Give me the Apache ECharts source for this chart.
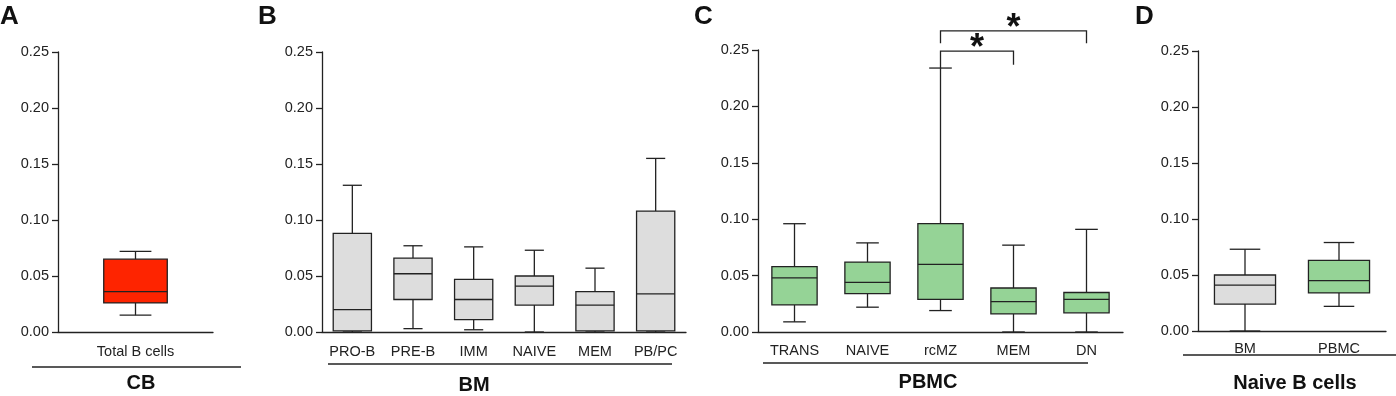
<!DOCTYPE html>
<html>
<head>
<meta charset="utf-8">
<script src="https://cdn.jsdelivr.net/npm/echarts@6/dist/echarts.min.js"></script>
<style>
  html, body { margin: 0; background: #fff; }
  #main { width: 1396px; height: 396px; }
</style>
</head>
<body>
<div id="main"></div>
<script>
// each box is [min, q1, median, q3, max]
const cbCats = ['Total B cells'];
const cbBoxes = [[0.015, 0.026, 0.036, 0.065, 0.072]];

const bmCats = ['PRO-B', 'PRE-B', 'IMM', 'NAIVE', 'MEM', 'PB/PC'];
const bmBoxes = [
    [0.000, 0.001, 0.020, 0.088, 0.131],
    [0.003, 0.029, 0.052, 0.066, 0.077],
    [0.002, 0.011, 0.029, 0.047, 0.076],
    [0.000, 0.024, 0.041, 0.050, 0.073],
    [0.000, 0.001, 0.024, 0.036, 0.057],
    [0.000, 0.001, 0.034, 0.108, 0.155]
];

const pbmcCats = ['TRANS', 'NAIVE', 'rcMZ', 'MEM', 'DN'];
const pbmcBoxes = [
    [0.009, 0.024, 0.048, 0.058, 0.096],
    [0.022, 0.034, 0.044, 0.062, 0.079],
    [0.019, 0.029, 0.060, 0.096, 0.234],
    [0.000, 0.016, 0.027, 0.039, 0.077],
    [0.000, 0.017, 0.029, 0.035, 0.091]
];

const naiveCats = ['BM', 'PBMC'];
const naiveBoxes = [
    [0.000, 0.024, 0.041, 0.050, 0.073],
    [0.022, 0.034, 0.045, 0.063, 0.079]
];

// significance brackets in PBMC: [fromCat, toCat, barY, leftEndY, rightEndY]
const sigBrackets = [
    [2, 3, 0.249, 0.234, 0.237],
    [2, 4, 0.267, 0.256, 0.256]
];
const sigLabels = ['*', '*'];

const groupTitles = ['CB', 'BM', 'PBMC', 'Naive B cells'];
const panelLetters = ['A', 'B', 'C', 'D'];

const RED = '#fe2400', GREY = '#dddddd', GREEN = '#95d396';
const INK = '#222';
const FONT = '"Liberation Sans", Arial, sans-serif';

function boxRenderer(colors, widthFrac){
    return function(params, api){
        let i = api.value(0);
        let band = api.size([1, 0])[0];
        let w = band * widthFrac;
        let cap = w * 0.5;
        let lo = api.coord([i, api.value(1)]);
        let q1 = api.coord([i, api.value(2)]);
        let med = api.coord([i, api.value(3)]);
        let q3 = api.coord([i, api.value(4)]);
        let hi = api.coord([i, api.value(5)]);
        let cx = lo[0];
        let line = (x1, y1, x2, y2) => ({
            type: 'line',
            shape: {x1: x1, y1: y1, x2: x2, y2: y2},
            style: {stroke: INK, lineWidth: 1.3}
        });
        return {
            type: 'group',
            children: [
                line(cx, hi[1], cx, q3[1]),
                line(cx - cap / 2, hi[1], cx + cap / 2, hi[1]),
                line(cx, q1[1], cx, lo[1]),
                line(cx - cap / 2, lo[1], cx + cap / 2, lo[1]),
                {
                    type: 'rect',
                    shape: {x: cx - w / 2, y: q3[1], width: w, height: q1[1] - q3[1]},
                    style: {fill: colors[params.dataIndex % colors.length], stroke: INK, lineWidth: 1.3}
                },
                line(cx - w / 2, med[1], cx + w / 2, med[1])
            ]
        };
    };
}

function bracketRenderer(params, api){
    let a = api.coord([api.value(0), api.value(2)]);
    let b = api.coord([api.value(1), api.value(2)]);
    let la = api.coord([api.value(0), api.value(3)]);
    let rb = api.coord([api.value(1), api.value(4)]);
    return {
        type: 'group',
        children: [
            {
                type: 'polyline',
                shape: {points: [[a[0], la[1]], a, b, [b[0], rb[1]]]},
                style: {stroke: INK, lineWidth: 1.3, fill: null}
            },
            {
                type: 'text',
                x: (a[0] + b[0]) / 2,
                y: a[1] - 2,
                style: {
                    text: sigLabels[params.dataIndex],
                    font: 'bold 36px ' + FONT,
                    fill: '#111',
                    align: 'center',
                    verticalAlign: 'middle'
                }
            }
        ]
    };
}

// panel geometry
const grids = [
    {left: 58, top: 52, width: 155, height: 280},
    {left: 322, top: 52, width: 364, height: 280},
    {left: 758, top: 50, width: 365, height: 282},
    {left: 1198, top: 51, width: 188, height: 280}
];
const catLists = [cbCats, bmCats, pbmcCats, naiveCats];
const labelMargins = [12, 12, 11, 10];

let xAxes = catLists.map((cats, k) => ({
    type: 'category',
    gridIndex: k,
    data: cats,
    boundaryGap: true,
    axisLine: {lineStyle: {color: INK, width: 1.3}},
    axisTick: {alignWithLabel: true, length: 5, lineStyle: {color: INK, width: 1.3}},
    axisLabel: {color: INK, fontSize: 14.5, fontFamily: FONT, margin: labelMargins[k], interval: 0},
    splitLine: {show: false}
}));

let yAxes = grids.map((g, k) => ({
    type: 'value',
    gridIndex: k,
    min: 0,
    max: 0.25,
    interval: 0.05,
    axisLine: {show: true, lineStyle: {color: INK, width: 1.3}},
    axisTick: {show: true, length: 6, lineStyle: {color: INK, width: 1.3}},
    axisLabel: {color: INK, fontSize: 14.5, fontFamily: FONT, margin: 9, formatter: v => v.toFixed(2)},
    splitLine: {show: false}
}));

function boxSeries(k, boxes, colors, frac){
    return {
        type: 'custom',
        xAxisIndex: k,
        yAxisIndex: k,
        renderItem: boxRenderer(colors, frac),
        encode: {x: 0, y: [1, 2, 3, 4, 5]},
        data: boxes.map((b, i) => [i].concat(b))
    };
}

let series = [
    boxSeries(0, cbBoxes, [RED], 0.41),
    boxSeries(1, bmBoxes, [GREY], 0.63),
    boxSeries(2, pbmcBoxes, [GREEN], 0.62),
    boxSeries(3, naiveBoxes, [GREY, GREEN], 0.65),
    {
        type: 'custom',
        xAxisIndex: 2,
        yAxisIndex: 2,
        clip: false,
        renderItem: bracketRenderer,
        encode: {x: [0, 1], y: [2, 3, 4]},
        data: sigBrackets
    }
];

// group underline + title under each panel
const groupLines = [[32, 241, 367], [328, 672, 364], [763, 1088, 363], [1183, 1396, 355]];
const titleY = [383, 385, 382, 383];
const titleX = [141, 474, 928, 1295];
const letterX = [0, 258, 694, 1135];

let graphic = [];
groupLines.forEach((l, k) => {
    graphic.push({
        type: 'line',
        shape: {x1: l[0], y1: l[2], x2: l[1], y2: l[2]},
        style: {stroke: INK, lineWidth: 1.3}
    });
    graphic.push({
        type: 'text',
        x: titleX[k],
        y: titleY[k],
        style: {text: groupTitles[k], font: 'bold 20px ' + FONT, fill: '#111', align: 'center', verticalAlign: 'middle'}
    });
    graphic.push({
        type: 'text',
        x: letterX[k],
        y: 17,
        style: {text: panelLetters[k], font: 'bold 26px ' + FONT, fill: '#111', align: 'left', verticalAlign: 'middle'}
    });
});

let option = {
    animation: false,
    backgroundColor: '#fff',
    grid: grids,
    xAxis: xAxes,
    yAxis: yAxes,
    series: series,
    graphic: graphic
};

var chart = echarts.init(document.getElementById('main'));
chart.setOption(option);
</script>
</body>
</html>
